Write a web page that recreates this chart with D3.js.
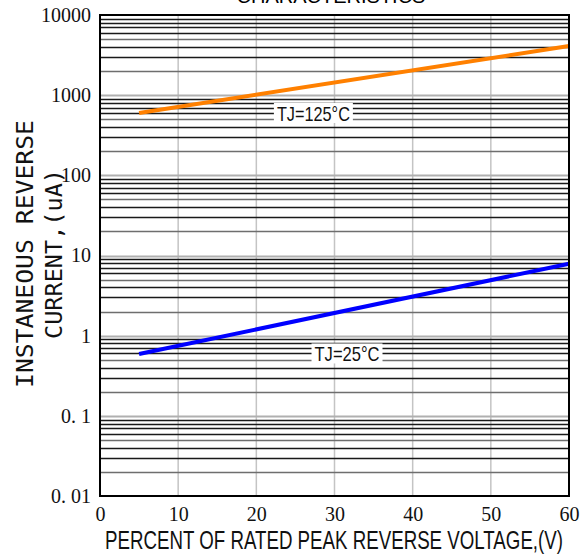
<!DOCTYPE html>
<meta charset="utf-8">
<style>
body { margin: 0; background: #fff; }
.tick-lab { font-family: "Liberation Serif", "DejaVu Serif", serif; font-size: 20px; fill: #111; }
.ytitle { font-family: "DejaVu Sans Mono", monospace; font-size: 23px; fill: #111; }
.xtitle { font-family: "Liberation Sans Narrow", "Liberation Sans", sans-serif; font-size: 25px; fill: #111; }
.series-lab { font-family: "Liberation Sans Narrow", "Liberation Sans", sans-serif; font-size: 21px; fill: #111; }
</style>
<svg width="588" height="556"></svg>
<script src="https://cdn.jsdelivr.net/npm/d3@7"></script>
<script>

// data
var voltage = [5, 60];
var current125 = [600, 4100];
var current25 = [0.59, 7.9];
var xTicks = [0, 10, 20, 30, 40, 50, 60];
var yTicks = [0.01, 0.1, 1, 10, 100, 1000, 10000];
var yTickLabels = ["0. 01", "0. 1", "1", "10", "100", "1000", "10000"];

var svg = d3.select("svg"),
    margin = {top: 15, right: 19, bottom: 60, left: 100},
    width = 588 - margin.left - margin.right,
    height = 556 - margin.top - margin.bottom,
    g = svg.append("g").attr("transform", "translate(" + margin.left + "," + margin.top + ")");

var x = d3.scaleLinear().domain([0, 60]).range([0, width]);
var y = d3.scaleLog().domain([0.01, 10000]).range([height, 0]);

// title, cut at the top like the scan
svg.append("text")
    .attr("x", 331).attr("y", 3)
    .attr("text-anchor", "middle")
    .style("font-family", "Liberation Sans, sans-serif")
    .style("font-size", "20px")
    .text("CHARACTERISTICS");

// vertical grid
g.selectAll(".vgrid")
  .data(xTicks.slice(1, -1))
  .enter().append("line")
    .attr("x1", function(d) { return x(d); })
    .attr("x2", function(d) { return x(d); })
    .attr("y1", 0).attr("y2", height)
    .attr("stroke", "#c4c4c4")
    .attr("stroke-width", 1.5);

// horizontal log grid
var minor = [];
yTicks.slice(0, -1).forEach(function(dec) {
  for (var k = 2; k <= 9; k++) minor.push({v: dec * k, k: k});
});
g.selectAll(".hgrid")
  .data(minor)
  .enter().append("line")
    .attr("x1", 0).attr("x2", width)
    .attr("y1", function(d) { return Math.round(y(d.v)) + 0.5; })
    .attr("y2", function(d) { return Math.round(y(d.v)) + 0.5; })
    .attr("stroke", function(d) { return (d.k == 2 || d.k == 5) ? "#6e6e6e" : "#1a1a1a"; })
    .attr("stroke-width", 1.6);

g.selectAll(".dgrid")
  .data(yTicks.slice(1, -1))
  .enter().append("line")
    .attr("x1", 0).attr("x2", width)
    .attr("y1", function(d) { return Math.round(y(d)) + 0.5; })
    .attr("y2", function(d) { return Math.round(y(d)) + 0.5; })
    .attr("stroke", "#b0b0b0")
    .attr("stroke-width", 2);

// series
var line = d3.line()
    .x(function(d) { return x(d[0]); })
    .y(function(d) { return y(d[1]); });

g.append("path")
    .datum(d3.zip(voltage, current125))
    .attr("fill", "none")
    .attr("stroke", "#ff8000")
    .attr("stroke-width", 4)
    .attr("d", line);

g.append("path")
    .datum(d3.zip(voltage, current25))
    .attr("fill", "none")
    .attr("stroke", "#0000ff")
    .attr("stroke-width", 4)
    .attr("d", line);

// series labels with white boxes over the grid
function seriesLabel(txt, cx, cy, w) {
  g.append("rect")
      .attr("x", cx - w / 2 - 3).attr("y", cy - 10)
      .attr("width", w + 6).attr("height", 20)
      .attr("fill", "#fff");
  g.append("text")
      .attr("class", "series-lab")
      .attr("x", cx).attr("y", cy + 8)
      .attr("text-anchor", "middle")
      .attr("textLength", w)
      .attr("lengthAdjust", "spacingAndGlyphs")
      .text(txt);
}
seriesLabel("TJ=125\u00b0C", x(27.3), y(600), 73);
seriesLabel("TJ=25\u00b0C", x(31.6), y(0.6), 65);

// frame
g.append("rect")
    .attr("width", width).attr("height", height)
    .attr("fill", "none")
    .attr("stroke", "#000")
    .attr("stroke-width", 2);

// tick labels
var xAxis = g.append("g")
    .attr("transform", "translate(0," + height + ")")
    .call(d3.axisBottom(x).tickValues(xTicks).tickSize(0).tickPadding(11));
xAxis.select(".domain").remove();
xAxis.selectAll("text").attr("class", "tick-lab").attr("fill", null);

var yAxis = g.append("g")
    .call(d3.axisLeft(y).tickValues(yTicks).tickSize(0).tickPadding(9)
      .tickFormat(function(d, i) { return yTickLabels[i]; }));
yAxis.select(".domain").remove();
yAxis.selectAll("text").attr("class", "tick-lab").attr("fill", null);

// axis titles
svg.append("text")
    .attr("class", "xtitle")
    .attr("x", 334).attr("y", 549)
    .attr("text-anchor", "middle")
    .attr("textLength", 458)
    .attr("lengthAdjust", "spacingAndGlyphs")
    .text("PERCENT OF RATED PEAK REVERSE VOLTAGE,(V)");

svg.append("text")
    .attr("class", "ytitle")
    .attr("transform", "translate(33,254) rotate(-90)")
    .attr("text-anchor", "middle")
    .attr("textLength", 268)
    .attr("lengthAdjust", "spacingAndGlyphs")
    .text("INSTANEOUS REVERSE");

svg.append("text")
    .attr("class", "ytitle")
    .attr("transform", "translate(62,254) rotate(-90)")
    .attr("text-anchor", "middle")
    .attr("textLength", 170)
    .attr("lengthAdjust", "spacingAndGlyphs")
    .text("CURRENT,(uA)");

</script>
